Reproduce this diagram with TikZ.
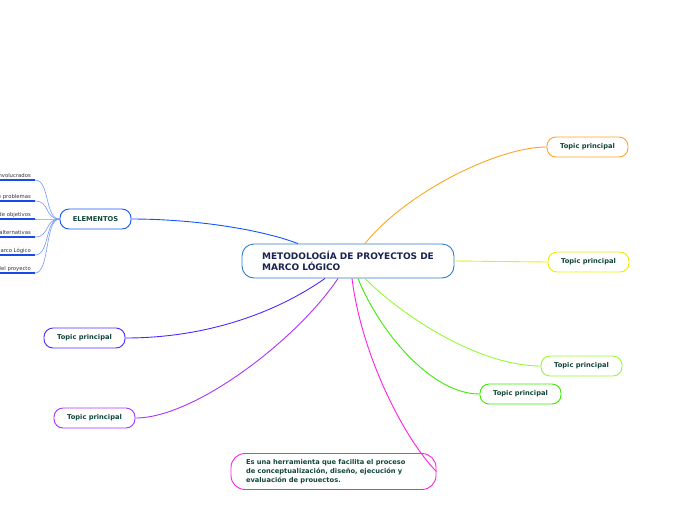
\documentclass[tikz,border=0pt]{standalone}
\usepackage{fontspec}
\setmainfont{DejaVu Sans}
\usepackage{tikz}
\usetikzlibrary{positioning, calc}
\definecolor{mainb}{RGB}{45,125,205}
\definecolor{ttl}{RGB}{25,35,80}
\definecolor{tcol}{RGB}{20,70,60}
\definecolor{elb}{RGB}{20,85,245}
\definecolor{orn}{RGB}{255,165,35}
\definecolor{yel}{RGB}{238,238,0}
\definecolor{lgr}{RGB}{150,250,50}
\definecolor{grn}{RGB}{60,235,0}
\definecolor{bvi}{RGB}{80,40,255}
\definecolor{pur}{RGB}{170,50,255}
\definecolor{mag}{RGB}{255,30,225}
\definecolor{subl}{RGB}{120,150,255}
\definecolor{subu}{RGB}{25,75,235}
\tikzset{
  topic/.style={draw, line width=0.9pt, rounded corners=9pt, minimum width=81pt,
    minimum height=20pt, fill=white, inner sep=0pt, text=tcol,
    font=\fontsize{6.7}{8}\selectfont\bfseries},
  con/.style={line width=0.9pt},
  sub/.style={line width=0.6pt, draw=subl},
  uln/.style={line width=1.4pt, draw=subu},
  item/.style={font=\fontsize{5.3}{6}\selectfont, text=black!80, anchor=south east,
    inner xsep=4pt, inner ysep=1.5pt, text height=4pt, text depth=1.2pt}
}

\begin{document}
\begin{tikzpicture}[x=1pt, y=-1pt]
\useasboundingbox (0,0) rectangle (696,520);
\clip (0,0) rectangle (696,520);
% ---------- central topic ----------
\node[draw=mainb, line width=0.9pt, rounded corners=12pt, minimum width=212pt,
  minimum height=34pt, align=left, text=ttl, inner sep=0pt,
  font=\fontsize{9}{11}\selectfont\bfseries] (mm) at (348,261)
  {METODOLOGÍA DE PROYECTOS DE\\MARCO LÓGICO};
% ---------- main topics ----------
\node[topic, draw=orn] (tp1) at (587.5,147) {Topic principal};
\node[topic, draw=yel] (tp2) at (588.5,262) {Topic principal};
\node[topic, draw=lgr] (tp3) at (581.5,366) {Topic principal};
\node[topic, draw=grn] (tp4) at (520.5,394) {Topic principal};
\node[topic, draw=bvi] (tp5) at (84.5,338) {Topic principal};
\node[topic, draw=pur] (tp6) at (94.5,418) {Topic principal};
\node[topic, draw=elb, minimum width=71pt] (el) at (95.5,219) {ELEMENTOS};
\node[draw=mag, line width=0.9pt, rounded corners=14pt, minimum width=205pt,
  minimum height=36pt, text width=175pt, inner xsep=15pt, inner ysep=0pt, align=left,
  text=tcol, font=\fontsize{6.7}{9}\selectfont\bfseries] (desc) at (333.5,471.5)
  {Es una herramienta que facilita el proceso\\de conceptualización, diseño, ejecución y\\evaluación de prouectos.};
% ---------- sub-items of ELEMENTOS ----------
\node[item] (s1) at (35,180) {Análisis de involucrados};
\node[item] (s2) at (35,201) {Análisis de problemas};
\node[item] (s3) at (35,219) {Análisis de objetivos};
\node[item] (s4) at (35,237) {Análisis de alternativas};
\node[item] (s5) at (35,255) {Matriz de Marco Lógico};
\node[item] (s6) at (35,273) {Estructura analítica del proyecto};
\draw[uln] (s1.south west) -- (s1.south east);
\draw[uln] (s2.south west) -- (s2.south east);
\draw[uln] (s3.south west) -- (s3.south east);
\draw[uln] (s4.south west) -- (s4.south east);
\draw[uln] (s5.south west) -- (s5.south east);
\draw[uln] (s6.south west) -- (s6.south east);
\draw[sub] (el.west) .. controls +(-15,0) and +(15,0) .. (s1.south east);
\draw[sub] (el.west) .. controls +(-15,0) and +(15,0) .. (s2.south east);
\draw[sub] (el.west) .. controls +(-15,0) and +(15,0) .. (s3.south east);
\draw[sub] (el.west) .. controls +(-15,0) and +(15,0) .. (s4.south east);
\draw[sub] (el.west) .. controls +(-15,0) and +(15,0) .. (s5.south east);
\draw[sub] (el.west) .. controls +(-15,0) and +(15,0) .. (s6.south east);
% ---------- connectors from the central topic ----------
\draw[con, draw=orn] ([xshift=17pt]mm.north) .. controls +(40,-50) and +(-50,0) .. (tp1.west);
\draw[con, draw=yel] (mm.east) -- (tp2.west);
\draw[con, draw=lgr] ([xshift=17pt]mm.south) .. controls +(40,40) and +(-60,0) .. (tp3.west);
\draw[con, draw=grn] ([xshift=10pt]mm.south) .. controls +(20,50) and +(-50,0) .. (tp4.west);
\draw[con, draw=mag] ([xshift=4pt]mm.south) .. controls +(10,80) and +(-30,-30) .. (desc.east);
\draw[con, draw=pur] ([xshift=-10pt]mm.south) .. controls +(-40,60) and +(60,0) .. (tp6.east);
\draw[con, draw=bvi] ([xshift=-23pt]mm.south) .. controls +(-50,35) and +(80,0) .. (tp5.east);
\draw[con, draw=elb] ([xshift=-50pt]mm.north) .. controls +(-40,-15) and +(60,0) .. (el.east);
\end{tikzpicture}
\end{document}
